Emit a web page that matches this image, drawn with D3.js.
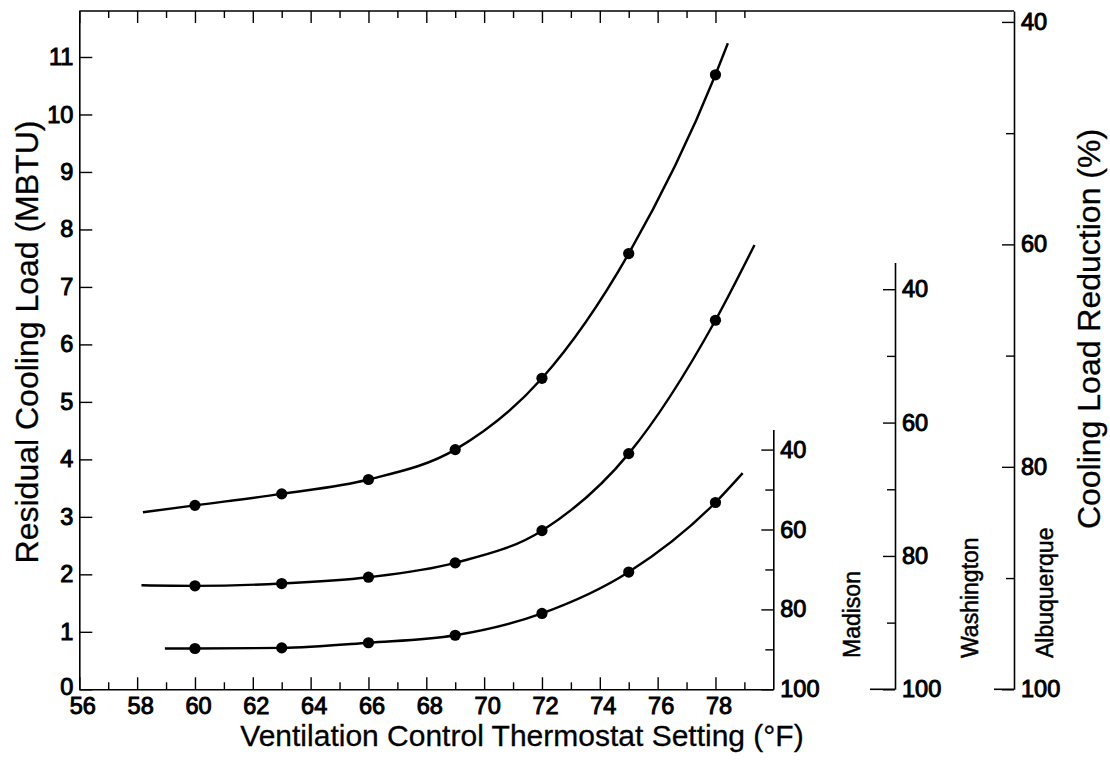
<!DOCTYPE html>
<html>
<head>
<meta charset="utf-8">
<script src="https://cdn.jsdelivr.net/npm/d3@7"></script>
<style>
  html, body { margin: 0; padding: 0; background: #fff; }
  svg { display: block; }
  text { font-family: "Liberation Sans", Arial, Helvetica, sans-serif; fill: #000; }
</style>
</head>
<body>
<svg id="chart" width="1110" height="761"></svg>
<script>
// ---------------- DATA ----------------
const temps = [60, 63, 66, 69, 72, 75, 78];                    // °F, measured points
const albuquerque = [3.20, 3.40, 3.65, 4.17, 5.41, 7.58, 10.69]; // MBTU
const washington  = [1.80, 1.84, 1.95, 2.20, 2.76, 4.10, 6.42];
const madison     = [0.71, 0.72, 0.81, 0.94, 1.32, 2.04, 3.25];
// fitted-curve extents beyond the points [temp, load]
const albuquerqueEnds = [[58.2, 3.08], [78.43, 11.24]];
const washingtonEnds  = [[58.15, 1.81], [79.35, 7.73]];
const madisonEnds     = [[58.96, 0.71], [78.94, 3.76]];
// base (no-ventilation) cooling load per city, MBTU (defines the % reduction scales)
const baseLoads = { Madison: 6.95, Washington: 11.6, Albuquerque: 19.35 };
const reductionTicks = [40, 60, 80, 100];
const reductionMinor = [50, 70, 90];
const xMajorTicks = [56, 58, 60, 62, 64, 66, 68, 70, 72, 74, 76, 78];
const xMinorTicks = [57, 59, 61, 63, 65, 67, 69, 71, 73, 75, 77, 79];
const yTicks = [0, 1, 2, 3, 4, 5, 6, 7, 8, 9, 10, 11];
const xDomain = [56, 80];
const yDomain = [0, 11.8];
const cities = ["Madison", "Washington", "Albuquerque"];
const reductionTop = { Madison: 35, Washington: 36 }; // Albuquerque runs to frame top

(function () {
// ---------------- LAYOUT ----------------
const svg = d3.select("#chart");
const pLeft = 79.3, pRight = 773.3, pTop = 11, pBottom = 689.3;
const axisX = { Madison: 773.3, Washington: 895, Albuquerque: 1014 };
const labelX = { Madison: 852, Washington: 970, Albuquerque: 1045 };
const stubLen = { Madison: 0, Washington: 25, Albuquerque: 20 };
const tickFont = 23.5, xTitleFont = 30, yTitleFont = 32, cityFont = 23;

const x = d3.scaleLinear().domain(xDomain).range([pLeft, pRight]);
const y = d3.scaleLinear().domain(yDomain).range([pBottom, pTop]);

function styleAxis(g, size) {
  g.selectAll("path.domain").attr("stroke", "#000").attr("stroke-width", 1.6);
  g.selectAll(".tick line").attr("stroke", "#000").attr("stroke-width", 1.4);
  g.selectAll(".tick text").attr("font-size", size).attr("font-family", "Liberation Sans, Arial, sans-serif")
    .attr("fill", "#000").style("font-weight", "normal").attr("stroke", "#000").attr("stroke-width", 1.0);
}

// Bottom axis
const gx = svg.append("g").attr("transform", `translate(0,${pBottom})`);
gx.call(d3.axisBottom(x).tickValues(xMajorTicks).tickSizeInner(-12).tickSizeOuter(0).tickPadding(8).tickFormat(d3.format("d")));
styleAxis(gx, tickFont);
gx.selectAll(".tick text").attr("dx", 3);
const gxm = svg.append("g").attr("transform", `translate(0,${pBottom})`);
gxm.call(d3.axisBottom(x).tickValues(xMinorTicks).tickSizeInner(-7).tickSizeOuter(0).tickFormat(""));
styleAxis(gxm, tickFont);
gxm.select("path.domain").remove();

// Top axis (ticks only)
const gt = svg.append("g").attr("transform", `translate(0,${pTop})`);
gt.call(d3.axisTop(x).tickValues(xMajorTicks).tickSizeInner(-12).tickSizeOuter(0).tickFormat(""));
styleAxis(gt, tickFont);
gt.select("path.domain").remove();
const gtm = svg.append("g").attr("transform", `translate(0,${pTop})`);
gtm.call(d3.axisTop(x).tickValues(xMinorTicks).tickSizeInner(-7).tickSizeOuter(0).tickFormat(""));
styleAxis(gtm, tickFont);
gtm.select("path.domain").remove();
svg.append("line").attr("x1", pLeft).attr("x2", axisX.Albuquerque).attr("y1", pTop).attr("y2", pTop)
  .attr("stroke", "#000").attr("stroke-width", 1.6);

// Left axis
const gy = svg.append("g").attr("transform", `translate(${pLeft},0)`);
gy.call(d3.axisLeft(y).tickValues(yTicks).tickSizeInner(-13).tickSizeOuter(0).tickPadding(6).tickFormat(d3.format("d")));
styleAxis(gy, tickFont);
gy.selectAll(".tick text").filter(d => d === 0).attr("dy", "0.2em");

// Right reduction axes
cities.forEach(c => {
  const B = baseLoads[c];
  const topR = c === "Albuquerque" ? 100 * (1 - yDomain[1] / B) : reductionTop[c];
  const r = d3.scaleLinear().domain([100, topR]).range([y(0), y(B * (1 - topR / 100))]);
  const g = svg.append("g").attr("transform", `translate(${axisX[c]},0)`);
  g.call(d3.axisRight(r).tickValues(reductionTicks).tickSizeInner(-12).tickSizeOuter(0).tickPadding(7).tickFormat(d3.format("d")));
  styleAxis(g, tickFont);
  const gm = svg.append("g").attr("transform", `translate(${axisX[c]},0)`);
  gm.call(d3.axisRight(r).tickValues(reductionMinor).tickSizeInner(-8).tickSizeOuter(0).tickFormat(""));
  styleAxis(gm, tickFont);
  gm.select("path.domain").remove();
  if (stubLen[c] > 0) {
    svg.append("line").attr("x1", axisX[c] - stubLen[c]).attr("x2", axisX[c])
      .attr("y1", y(0)).attr("y2", y(0)).attr("stroke", "#000").attr("stroke-width", 1.6);
  }
  svg.append("text").text(c)
    .attr("transform", `translate(${labelX[c]},${658}) rotate(-90)`)
    .attr("dy", "0.35em").attr("text-anchor", "start")
    .attr("font-size", cityFont).attr("stroke", "#000").attr("stroke-width", 0.5);
});

// Curves
const line = d3.line().x(d => x(d[0])).y(d => y(d[1])).curve(d3.curveMonotoneX);
const seriesList = [
  { vals: albuquerque, ends: albuquerqueEnds },
  { vals: washington, ends: washingtonEnds },
  { vals: madison, ends: madisonEnds }
];
seriesList.forEach(s => {
  const pts = [s.ends[0], ...temps.map((t, i) => [t, s.vals[i]]), s.ends[1]];
  svg.append("path").attr("d", line(pts)).attr("fill", "none")
    .attr("stroke", "#000").attr("stroke-width", 2.4);
  svg.append("g").selectAll("circle").data(temps.map((t, i) => [t, s.vals[i]])).join("circle")
    .attr("cx", d => x(d[0])).attr("cy", d => y(d[1])).attr("r", 5.6).attr("fill", "#000");
});

// Titles
svg.append("text").text("Ventilation Control Thermostat Setting (°F)")
  .attr("x", 522).attr("y", 746).attr("text-anchor", "middle")
  .attr("font-size", xTitleFont).attr("stroke", "#000").attr("stroke-width", 0.3);
svg.append("text").text("Residual Cooling Load (MBTU)")
  .attr("transform", `translate(27,${342}) rotate(-90)`).attr("dy", "0.35em")
  .attr("text-anchor", "middle").attr("font-size", yTitleFont).attr("stroke", "#000").attr("stroke-width", 0.3);
svg.append("text").text("Cooling Load Reduction (%)")
  .attr("transform", `translate(1089,${329}) rotate(-90)`).attr("dy", "0.35em")
  .attr("text-anchor", "middle").attr("font-size", yTitleFont).attr("stroke", "#000").attr("stroke-width", 0.3);
})();
</script>
</body>
</html>
